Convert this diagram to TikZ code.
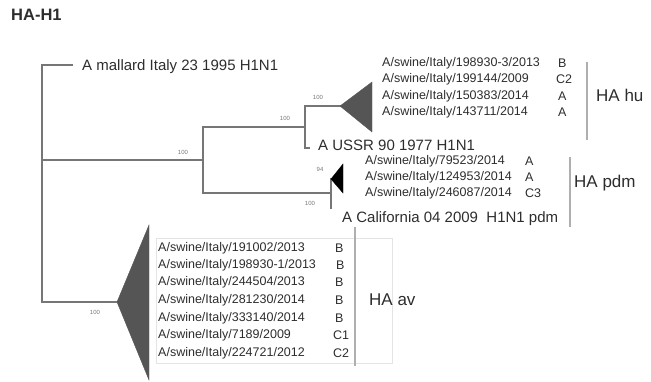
\documentclass[tikz,border=0pt]{standalone}
\usepackage{fontspec}
\setmainfont{Liberation Sans}
\definecolor{brc}{RGB}{118,118,118}
\definecolor{trc}{RGB}{85,85,85}
\definecolor{txc}{RGB}{45,45,45}
\definecolor{bkc}{RGB}{175,175,175}
\definecolor{boxc}{RGB}{228,228,228}
\begin{document}
\begin{tikzpicture}[x=1pt,y=-1pt,
  br/.style={draw=brc,line width=1.8pt,line cap=rect},
  clade/.style={fill=trc,draw=trc,line width=0.4pt},
  strain/.style={anchor=west,inner sep=0pt,text=txc,font=\fontsize{12.5}{14}\selectfont},
  ref/.style={anchor=west,inner sep=0pt,text=txc,font=\fontsize{15}{17}\selectfont},
  grp/.style={anchor=west,inner sep=0pt,text=txc,font=\fontsize{17}{19}\selectfont},
  boot/.style={inner sep=0pt,text=brc,font=\fontsize{6}{7}\selectfont},
  bracket/.style={draw=bkc,line width=1.4pt}]
\useasboundingbox (0,0) rectangle (651,382);
% title
\node[anchor=west,inner sep=0pt,text=txc,font=\bfseries\fontsize{16.5}{18}\selectfont] (title) at (11,15) {HA-H1};
% tree coordinates
\coordinate (rt) at (42,65);
\coordinate (rm) at (42,160);
\coordinate (rb) at (42,302);
\coordinate (mal) at (72,65);
\coordinate (n1) at (203,160);
\coordinate (n1t) at (203,127);
\coordinate (n1b) at (203,193);
\coordinate (n2) at (305,127);
\coordinate (n2t) at (305,106);
\coordinate (n2b) at (305,148);
\coordinate (ussr) at (309,148);
\coordinate (huA) at (340,106);
\coordinate (n3) at (331,193);
\coordinate (n3t) at (331,179);
\coordinate (n3b) at (331,208);
\coordinate (avA) at (117,302);
% branches
\draw[br] (mal) -- (rt) -- (rb) -- (avA);
\draw[br] (rm) -- (n1);
\draw[br] (n2) -- (n1t) -- (n1b) -- (n3);
\draw[br] (huA) -- (n2t) -- (n2b) -- (ussr);
\draw[br] (n3t) -- (n3b);
% collapsed clades
\draw[clade] (huA) -- (372,82) -- (372,132) -- cycle;
\draw[fill=black,draw=black] (n3t) -- (343,164) -- (343,193) -- cycle;
\draw[clade] (avA) -- (149,225) -- (149,380) -- cycle;
% bootstrap values
\node[boot] (b1) at (183,152) {100};
\node[boot] (b2) at (285,118) {100};
\node[boot] (b3) at (318,97) {100};
\node[boot] (b4) at (320,169) {94};
\node[boot] (b5) at (310,203) {100};
\node[boot] (b6) at (95,312) {100};
% reference strains
\node[ref] (lmal) at (82,67) {A mallard Italy 23 1995 H1N1};
\node[ref] (lussr) at (318,145.5) {A USSR 90 1977 H1N1};
\node[ref] (lcal) at (342,219) {A California 04 2009\ \ H1N1 pdm};
% HA hu
\node[strain] (h1) at (382,63) {A/swine/Italy/198930-3/2013};
\node[strain] (h2) at (382,79) {A/swine/Italy/199144/2009};
\node[strain] (h3) at (382,96) {A/swine/Italy/150383/2014};
\node[strain] (h4) at (382,112) {A/swine/Italy/143711/2014};
\node[strain] (h1c) at (558,63) {B};
\node[strain] (h2c) at (556,79) {C2};
\node[strain] (h3c) at (558,96) {A};
\node[strain] (h4c) at (558,112) {A};
\draw[bracket] (587,62) -- (587,140);
\node[grp] (ghu) at (596,95) {HA hu};
% HA pdm
\node[strain] (p1) at (365,161) {A/swine/Italy/79523/2014};
\node[strain] (p2) at (365,177) {A/swine/Italy/124953/2014};
\node[strain] (p3) at (365,193) {A/swine/Italy/246087/2014};
\node[strain] (p1c) at (525,161) {A};
\node[strain] (p2c) at (525,177) {A};
\node[strain] (p3c) at (525,193) {C3};
\draw[bracket] (570,157) -- (570,227);
\node[grp] (gpdm) at (574,183) {HA pdm};
% HA av
\draw[draw=boxc,line width=0.6pt] (156,238) rectangle (392,363);
\node[strain] (a1) at (158,248) {A/swine/Italy/191002/2013};
\node[strain] (a2) at (158,265) {A/swine/Italy/198930-1/2013};
\node[strain] (a3) at (158,282) {A/swine/Italy/244504/2013};
\node[strain] (a4) at (158,300) {A/swine/Italy/281230/2014};
\node[strain] (a5) at (158,318) {A/swine/Italy/333140/2014};
\node[strain] (a6) at (158,335) {A/swine/Italy/7189/2009};
\node[strain] (a7) at (158,353) {A/swine/Italy/224721/2012};
\node[strain] (a1c) at (335,248) {B};
\node[strain] (a2c) at (336,265) {B};
\node[strain] (a3c) at (335,282) {B};
\node[strain] (a4c) at (335,300) {B};
\node[strain] (a5c) at (335,318) {B};
\node[strain] (a6c) at (333,335) {C1};
\node[strain] (a7c) at (333,353) {C2};
\draw[bracket] (355,227) -- (355,366);
\node[grp] (gav) at (369,300) {HA av};
\end{tikzpicture}
\end{document}
